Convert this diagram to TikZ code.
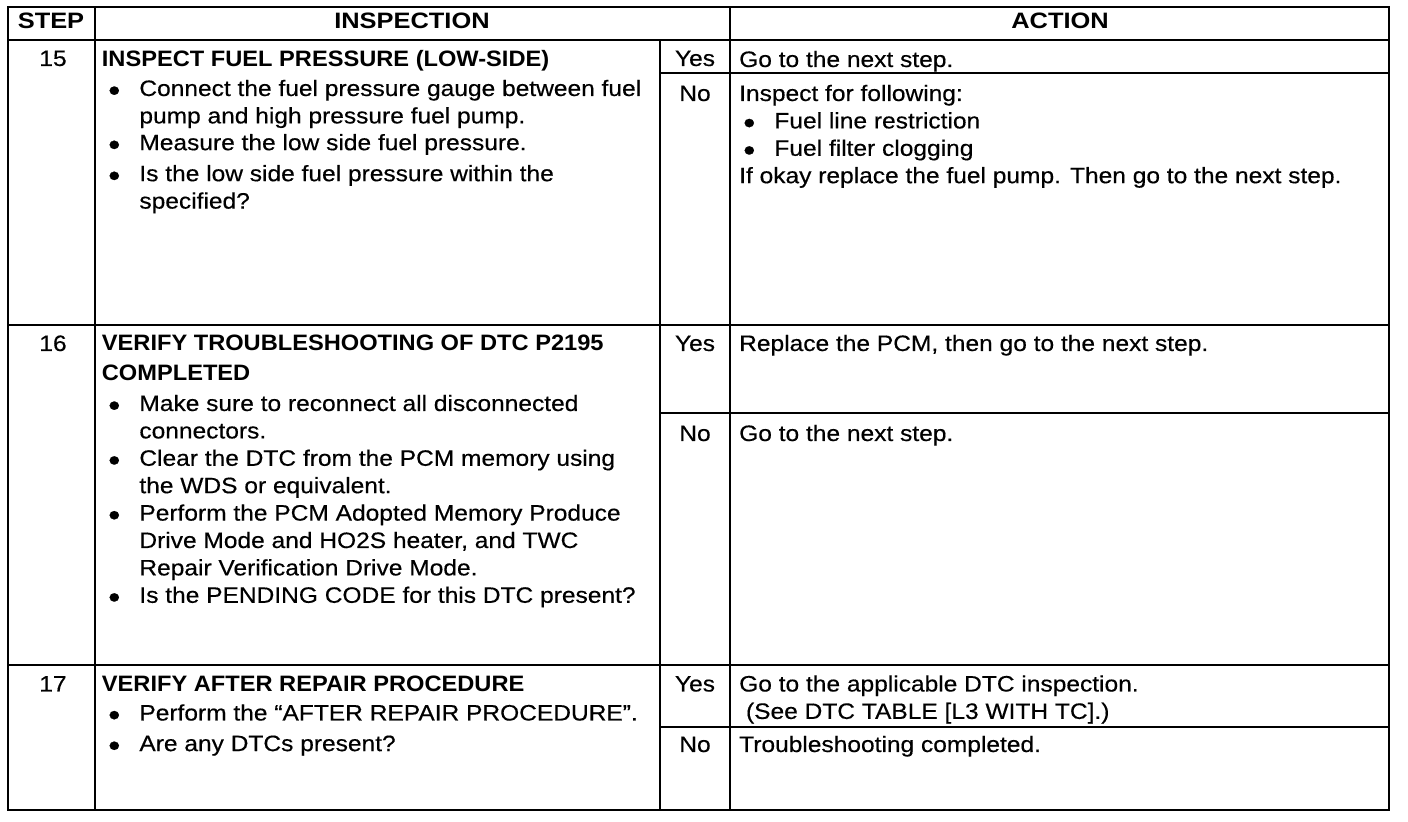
\documentclass[tikz,border=0pt]{standalone}
\usepackage{graphicx}
\usepackage{fontspec}
\setmainfont[FakeStretch=1.1,UprightFeatures={FakeBold=0.4},BoldFeatures={FakeStretch=1.06}]{Liberation Sans}
\newfontfamily\headfont[FakeStretch=1.14,BoldFeatures={FakeStretch=1.14}]{Liberation Sans}
\newcommand{\cellfont}{\fontsize{11.15}{13.7}\selectfont}
\newcommand{\bul}{\hspace*{-0.8pt}\raisebox{-2.5pt}[0pt][0pt]{\scalebox{1.4}{\textbullet}}}
\begin{document}
\begin{tikzpicture}[x=0.5pt,y=-0.5pt,
    txt/.style={anchor=base west,inner sep=0pt,font=\cellfont},
    mid/.style={anchor=base,inner sep=0pt,font=\cellfont},
    bold/.style={font=\cellfont\bfseries},
    head/.style={anchor=base,inner sep=0pt,font=\cellfont\headfont\bfseries}]
  \useasboundingbox (0,0) rectangle (1408,822);
  \draw[line width=1.4pt] (8,7) rectangle (1389,810);
  \draw[line width=1.3pt] (8,40) -- (1389,40);
  \draw[line width=1.2pt] (8,325) -- (1389,325) (8,665) -- (1389,665);
  \draw[line width=1.1pt] (95,7) -- (95,810) (730,7) -- (730,810) (660,40) -- (660,810);
  \foreach \y in {73,413,727}
    \draw[line width=1.1pt] (660,\y) -- (1389,\y);

  \node[head] (hstep) at (51,29) {STEP};
  \node[head] (hinsp) at (412,29) {INSPECTION};
  \node[head] (hact) at (1060,29) {ACTION};

  \node[mid] (n15) at (53,66) {15};
  \node[txt,bold] (t15) at (101.5,67) {INSPECT FUEL PRESSURE (LOW-SIDE)};
  \node[txt] (b15) at (109.5,96) {\begin{tabular}[t]{@{}l@{\hspace{9.54pt}}l@{}}
    \bul & Connect the fuel pressure gauge between fuel\\
         & pump and high pressure fuel pump.\\[-0.3pt]
    \bul & Measure the low side fuel pressure.\\[1.8pt]
    \bul & Is the low side fuel pressure within the\\
         & specified?
  \end{tabular}};
  \node[mid] (yes15) at (695,66) {Yes};
  \node[mid] (no15) at (695,101) {No};
  \node[txt] (ay15) at (738.8,67) {Go to the next step.};
  \node[txt] (an15) at (738.8,101) {\begin{tabular}[t]{@{}l@{}}
    Inspect for following:\\
    \hspace*{2.85pt}\bul\hspace{9.54pt}Fuel line restriction\\
    \hspace*{2.85pt}\bul\hspace{9.54pt}Fuel filter clogging\\
    If okay replace the fuel pump. Then go to the next step.
  \end{tabular}};

  \node[mid] (n16) at (53,351) {16};
  \node[txt,bold] (t16) at (101.5,351) {\begin{tabular}[t]{@{}l@{}}
    VERIFY TROUBLESHOOTING OF DTC P2195\\[1.3pt]
    COMPLETED
  \end{tabular}};
  \node[txt] (b16) at (109.5,411) {\begin{tabular}[t]{@{}l@{\hspace{9.54pt}}l@{}}
    \bul & Make sure to reconnect all disconnected\\
         & connectors.\\
    \bul & Clear the DTC from the PCM memory using\\
         & the WDS or equivalent.\\
    \bul & Perform the PCM Adopted Memory Produce\\
         & Drive Mode and HO2S heater, and TWC\\
         & Repair Verification Drive Mode.\\
    \bul & Is the PENDING CODE for this DTC present?
  \end{tabular}};
  \node[mid] (yes16) at (695,351) {Yes};
  \node[mid] (no16) at (695,441) {No};
  \node[txt] (ay16) at (738.8,351) {Replace the PCM, then go to the next step.};
  \node[txt] (an16) at (738.8,441) {Go to the next step.};

  \node[mid] (n17) at (53,691.5) {17};
  \node[txt,bold] (t17) at (101.5,691.5) {VERIFY AFTER REPAIR PROCEDURE};
  \node[txt] (b17) at (109.5,720.5) {\begin{tabular}[t]{@{}l@{\hspace{9.54pt}}l@{}}
    \bul & Perform the “AFTER REPAIR PROCEDURE”.\\[1.6pt]
    \bul & Are any DTCs present?
  \end{tabular}};
  \node[mid] (yes17) at (695,691.5) {Yes};
  \node[mid] (no17) at (695,752) {No};
  \node[txt] (ay17) at (738.8,691.5) {\begin{tabular}[t]{@{}l@{}}
    Go to the applicable DTC inspection.\\
    \ (See DTC TABLE [L3 WITH TC].)
  \end{tabular}};
  \node[txt] (an17) at (738.8,752) {Troubleshooting completed.};
\end{tikzpicture}
\end{document}
